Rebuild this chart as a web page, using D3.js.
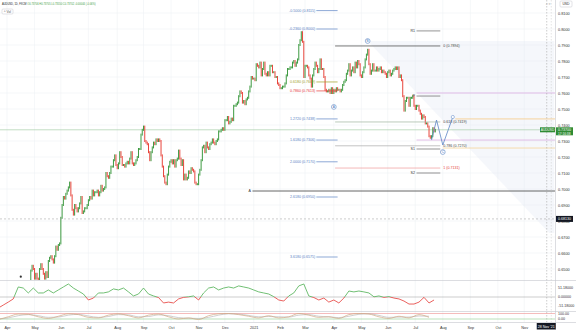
<!DOCTYPE html>
<html>
<head>
<meta charset="utf-8">
<script src="https://cdn.jsdelivr.net/npm/d3@7"></script>
<style>
html, body { margin: 0; padding: 0; background: #fff; }
svg { display: block; font-family: "Liberation Sans", Arial, sans-serif; }
</style>
</head>
<body>
<div id="chart"></div>
<script>
// ---- data (daily closes in pips, one row per week, from Mon 20 Apr 2020) ----
var firstBar = "2020-04-20";
var firstOpen = 6360;
var closes = [
  6370, 6330, 6390, 6350, 6360,  6420, 6490, 6520, 6500, 6440,
  6470, 6440, 6420, 6500, 6530,  6500, 6470, 6440, 6480, 6450,
  6550, 6570, 6580, 6560, 6540,  6580, 6640, 6620, 6650, 6660,
  6820, 6900, 6950, 6940, 6970,  6990, 7010, 7040, 6960, 6870,
  6840, 6900, 6880, 6860, 6880,  6910, 6950, 6850, 6860, 6880,
  6880, 6900, 6930, 6950, 6940,  6990, 6960, 6980, 6980, 6990,
  6960, 6980, 7020, 6990, 7000,  7010, 7100, 7080, 7070, 7100,
  7140, 7140, 7180, 7210, 7150,  7130, 7160, 7230, 7200, 7150,
  7150, 7140, 7160, 7170, 7160,  7190, 7230, 7160, 7150, 7160,
  7180, 7200, 7250, 7250, 7340,  7370, 7390, 7300, 7290, 7280,
  7230, 7180, 7230, 7260, 7290,  7280, 7310, 7300, 7310, 7300,
  7210, 7140, 7080, 7040, 7030,  7090, 7140, 7170, 7180, 7160,
  7180, 7140, 7180, 7190, 7240,  7190, 7150, 7180, 7060, 7090,
  7060, 7070, 7110, 7100, 7130,  7120, 7110, 7040, 7030, 7030,
  7090, 7120, 7180, 7260, 7270,  7230, 7290, 7260, 7250, 7280,
  7290, 7310, 7290, 7280, 7300,  7310, 7360, 7360, 7370, 7380,
  7370, 7430, 7430, 7450, 7410,  7420, 7440, 7430, 7520, 7520,
  7530, 7540, 7580, 7610, 7600,  7540, 7550, 7530, 7560, 7570,
  7610, 7640, 7700, 7690, 7690,  7680, 7780, 7770, 7760, 7790,
  7710, 7750, 7790, 7720, 7710,  7730, 7710, 7770, 7770, 7730,
  7730, 7700, 7700, 7660, 7650,  7630, 7630, 7640, 7640, 7660,
  7710, 7750, 7750, 7760, 7760,  7790, 7800, 7770, 7790, 7810,
  7900, 7930, 7980, 7920, 7700,  7770, 7770, 7760, 7710, 7690,
  7640, 7710, 7750, 7790, 7770,  7730, 7750, 7810, 7750, 7750,
  7700, 7620, 7610, 7610, 7620,  7600, 7630, 7600, 7620, 7610,
  7630, 7620, 7620, 7610, 7620,  7650, 7670, 7680, 7720, 7740,
  7780, 7710, 7740, 7760, 7730,  7790, 7760, 7800, 7780, 7710,
  7700, 7730, 7760, 7810, 7840,  7870, 7780, 7720, 7740, 7780,
  7740, 7740, 7760, 7740, 7750,  7760, 7730, 7740, 7730, 7720,
  7700, 7730, 7740, 7710, 7720,  7740, 7750, 7760, 7750, 7760,
  7700, 7710, 7680, 7580, 7490,  7550, 7570, 7570, 7520, 7570,
  7570, 7580, 7520, 7500, 7520,  7520, 7490, 7470, 7440, 7460,
  7450, 7410, 7410, 7390, 7330,  7320, 7330, 7380, 7360, 7370
];

// momentum pane, one value every 4 bars from Mon 23 Mar 2020
var oscStart = "2020-03-23";
var oscValues = [
  -63, -46, -29, -11, 57, 51, 23, 51, 23, 23, 40, 23, 40, 57, 74, 51, 34, 17,
  -17, -6, 23, 23, 29, 46, 40, 51, 29, 6, 17, 51, 17, 6, -3, -34, -29, -34,
  -11, -2, 1, 6, -17, 23, 51, 57, 40, 51, 57, 51, 63, 57, 51, 40, 29, 23, 17,
  2, -17, -23, 6, 23, 63, 74, 6, -3, -17, -6, -29, -17, -34, -6, 34, 29, 34,
  29, 23, 1, 6, -2, 2, -6, -11, -23, -40, -40, -29, -2, -34, -17
];
// lower pane, one value every 8 bars
var kValues = [-10, 40, 90, 85, 40, 10, 50, 95, 80, 30, 20, 70, 95, 60, 20, 70, 90, 40, 0, 20, -10, 60,
  95, 100, 80, 50, 20, 60, 20, 40, 100, 70, 30, 40, 10, 80, 100, 90, 40, 10, 50, 20, 80, 30];
var dValues = [0, 20, 60, 80, 60, 30, 35, 70, 85, 55, 30, 45, 80, 75, 40, 45, 75, 60, 25, 15, 10, 30,
  70, 95, 90, 65, 40, 45, 40, 35, 70, 80, 50, 40, 25, 50, 85, 95, 65, 30, 35, 35, 55, 50];

var priceTicks = [0.65, 0.66, 0.67, 0.68, 0.69, 0.70, 0.71, 0.72, 0.73, 0.74, 0.75, 0.76, 0.77, 0.78, 0.79, 0.80, 0.81];

// fib extension labels
var fibLevels = [
  { ratio: "-0.5000", price: 0.8115, color: "#5b84c4" },
  { ratio: "-0.2360", price: 0.8000, color: "#5b84c4" },
  { ratio: "0.6180", price: 0.7669, color: "#9e9d24" },
  { ratio: "0.7860", price: 0.7613, color: "#e53935" },
  { ratio: "1.2720", price: 0.7438, color: "#5b84c4" },
  { ratio: "1.6180", price: 0.7306, color: "#5b84c4" },
  { ratio: "2.0000", price: 0.7170, color: "#5b84c4" },
  { ratio: "2.6180", price: 0.6950, color: "#5b84c4" },
  { ratio: "3.6180", price: 0.6575, color: "#5b84c4" }
];
// trend based levels (from, to, price, label)
var trendLevels = [
  { from: "2021-04-02", to: "2021-07-29", price: 0.7894, color: "#555", label: "0 (0.7894)" },
  { from: "2021-04-02", to: "2021-07-29", price: 0.7419, color: "#9fb59f", label: "0.618 (0.7419)" },
  { from: "2021-04-02", to: "2021-07-29", price: 0.7270, color: "#aaa", label: "0.786 (0.7270)" },
  { from: "2021-04-02", to: "2021-07-29", price: 0.7131, color: "#ef9a9a", label: "1 (0.7131)" }
];
var pivotLevels = [
  { name: "R1", price: 0.7988 },
  { name: "P", price: 0.7581 },
  { name: "S1", price: 0.7250 },
  { name: "S2", price: 0.7100 }
];
var rayLevels = [
  { from: "2021-07-02", price: 0.7600, color: "#dcaee3" },
  { from: "2021-08-16", price: 0.7438, color: "#f6c985" },
  { from: "2021-07-02", price: 0.7306, color: "#dcaee3" },
  { from: "2021-08-02", price: 0.7256, color: "#f6d49a" },
  { from: "2020-12-31", price: 0.69875, color: "#555" }
];
var waves = [
  { label: "A", date: "2021-04-01", price: 0.7513 },
  { label: "B", date: "2021-05-10", price: 0.7925 },
  { label: "C", date: "2021-08-02", price: 0.7231 }
];
var projection = [["2021-07-20", 0.7306], ["2021-07-26", 0.7431], ["2021-08-02", 0.7275], ["2021-08-12", 0.7450]];
var wedge = [["2021-05-10", 0.7925], ["2021-12-03", 0.7925], ["2021-12-03", 0.6725], ["2021-11-29", 0.6725]];
var lastPrice = 0.7370;
var crossDate = "2021-11-25", crossPrice = 0.6813;

// ---- setup ----
var W = 576, H = 330, plotR = 555, mainB = 280;
var svg = d3.select("#chart").append("svg").attr("width", W).attr("height", H);

var parse = d3.timeParse("%Y-%m-%d"), fmt = d3.timeFormat("%Y-%m-%d");
var days = d3.timeDay.range(parse("2020-03-23"), parse("2022-01-01")).filter(function(d) { return d.getDay() % 6 !== 0; });
var dayIndex = new Map(days.map(function(d, i) { return [fmt(d), i]; }));
function bar(s) { return dayIndex.get(s); }

var x = d3.scaleLinear().domain([bar("2020-04-01"), bar("2021-02-01")]).range([7, 280]);
var y = d3.scaleLinear().domain([0.65, 0.81]).range([269, 13]);
var y1 = d3.scaleLinear().domain([-51.18, 51.18]).range([306, 288]);
var y2 = d3.scaleLinear().domain([0, 100]).range([319, 313.5]);

var defs = svg.append("defs");
defs.append("clipPath").attr("id", "mainClip").append("rect").attr("x", 0).attr("y", 0).attr("width", plotR).attr("height", mainB);
defs.append("clipPath").attr("id", "upClip").append("rect").attr("x", 0).attr("y", 281).attr("width", plotR).attr("height", y1(0) - 281);
defs.append("clipPath").attr("id", "dnClip").append("rect").attr("x", 0).attr("y", y1(0)).attr("width", plotR).attr("height", 311 - y1(0));

// month ticks
var months = d3.timeMonth.range(parse("2020-04-01"), parse("2021-12-01")).map(function(m) {
  var d = m;
  while (d.getDay() % 6 === 0) d = d3.timeDay.offset(d, 1);
  return { idx: bar(fmt(d)), label: m.getMonth() === 0 ? String(m.getFullYear()) : d3.timeFormat("%b")(m) };
});

// grid
var grid = svg.append("g");
grid.selectAll(".vg").data(months).enter().append("line")
  .attr("x1", function(d) { return x(d.idx); }).attr("x2", function(d) { return x(d.idx); })
  .attr("y1", 0).attr("y2", 322).attr("stroke", "#eff1f5").attr("stroke-width", 0.6);
grid.selectAll(".hg").data(priceTicks).enter().append("line")
  .attr("x1", 0).attr("x2", plotR).attr("y1", function(d) { return y(d); }).attr("y2", function(d) { return y(d); })
  .attr("stroke", "#eff1f5").attr("stroke-width", 0.6);

var main = svg.append("g").attr("clip-path", "url(#mainClip)");

// faint fan region
main.append("path").attr("d", "M" + wedge.map(function(p) { return [x(bar(p[0])), y(p[1])]; }).join("L") + "Z")
  .attr("fill", "#e3e9f3").attr("opacity", 0.35);

// price line and crosshair
main.append("line").attr("x1", 0).attr("x2", plotR).attr("y1", y(lastPrice)).attr("y2", y(lastPrice))
  .attr("stroke", "#a9cfaa").attr("stroke-width", 0.7);
svg.append("line").attr("x1", 0).attr("x2", plotR).attr("y1", y(crossPrice)).attr("y2", y(crossPrice))
  .attr("stroke", "#9a9a9a").attr("stroke-width", 0.5).attr("stroke-dasharray", "2,2");
svg.append("line").attr("x1", x(bar(crossDate))).attr("x2", x(bar(crossDate))).attr("y1", 0).attr("y2", 322)
  .attr("stroke", "#9a9a9a").attr("stroke-width", 0.5).attr("stroke-dasharray", "1.5,1.5");
svg.append("line").attr("x1", x(bar(crossDate)) + 4.5).attr("x2", x(bar(crossDate)) + 4.5).attr("y1", 0).attr("y2", 322)
  .attr("stroke", "#c9c9c9").attr("stroke-width", 0.5).attr("stroke-dasharray", "1.5,1.5");

// candles
var start = bar(firstBar);
var candles = closes.map(function(c, i) {
  var o = i === 0 ? firstOpen : closes[i - 1];
  return { idx: start + i, o: o / 10000, c: c / 10000 };
});
main.selectAll(".candle").data(candles).enter().append("rect")
  .attr("x", function(d) { return x(d.idx) - 0.5; })
  .attr("width", 1)
  .attr("y", function(d) { return y(Math.max(d.o, d.c)) - 1; })
  .attr("height", function(d) { return Math.max(1.2, Math.abs(y(d.o) - y(d.c)) + 2); })
  .attr("fill", function(d) { return d.c >= d.o ? "#3d9a41" : "#e8453c"; });

main.append("circle").attr("cx", x(bar("2020-04-16"))).attr("cy", y(0.6452)).attr("r", 1.1).attr("fill", "#333");

// fib labels
var fibG = main.append("g");
fibLevels.forEach(function(f) {
  var yy = y(f.price);
  fibG.append("line").attr("x1", x(bar("2021-03-12"))).attr("x2", x(bar("2021-04-06")))
    .attr("y1", yy).attr("y2", yy).attr("stroke", f.color).attr("stroke-width", 0.7);
  fibG.append("text").attr("x", x(bar("2021-03-12")) - 1).attr("y", yy + 1.2)
    .attr("text-anchor", "end").attr("font-size", 3.6).attr("fill", f.color)
    .text(f.ratio + " (" + f.price.toFixed(4) + ")");
});

// trend levels
trendLevels.forEach(function(t) {
  var yy = y(t.price);
  main.append("line").attr("x1", x(bar(t.from))).attr("x2", x(bar(t.to))).attr("y1", yy).attr("y2", yy)
    .attr("stroke", t.color).attr("stroke-width", t.color === "#555" ? 0.8 : 0.7);
  main.append("text").attr("x", x(bar(t.to)) + 3).attr("y", yy + 1.2).attr("font-size", 3.6)
    .attr("fill", t.color === "#ef9a9a" ? "#e53935" : "#444").text(t.label);
});

// rays to the right
rayLevels.forEach(function(r) {
  var yy = y(r.price);
  main.append("line").attr("x1", x(bar(r.from))).attr("x2", plotR).attr("y1", yy).attr("y2", yy)
    .attr("stroke", r.color).attr("stroke-width", r.color === "#555" ? 0.9 : 0.8);
});
main.append("text").attr("x", x(bar("2020-12-31")) - 1.5).attr("y", y(0.69875) + 1.2)
  .attr("text-anchor", "end").attr("font-size", 3.6).attr("fill", "#333").text("A");

// pivots
pivotLevels.forEach(function(p) {
  var yy = y(p.price);
  main.append("line").attr("x1", x(bar("2021-07-02"))).attr("x2", x(bar("2021-07-29"))).attr("y1", yy).attr("y2", yy)
    .attr("stroke", "#666").attr("stroke-width", 0.7);
  main.append("text").attr("x", x(bar("2021-07-02")) - 1.5).attr("y", yy + 1.2)
    .attr("text-anchor", "end").attr("font-size", 3.6).attr("fill", "#333").text(p.name);
});

// projection
main.append("path").attr("d", d3.line()(projection.map(function(p) { return [x(bar(p[0])), y(p[1])]; })))
  .attr("fill", "none").attr("stroke", "#5b84c4").attr("stroke-width", 0.8);
main.append("circle").attr("cx", x(bar(projection[3][0]))).attr("cy", y(projection[3][1])).attr("r", 1.6)
  .attr("fill", "#fff").attr("stroke", "#5b84c4").attr("stroke-width", 0.5);

// wave labels
var wg = main.selectAll(".wave").data(waves).enter().append("g")
  .attr("transform", function(d) { return "translate(" + x(bar(d.date)) + "," + y(d.price) + ")"; });
wg.append("circle").attr("r", 2.4).attr("fill", "#fff").attr("stroke", "#5b84c4").attr("stroke-width", 0.6);
wg.append("text").attr("y", 1.2).attr("text-anchor", "middle").attr("font-size", 3.2).attr("fill", "#3f6fb5")
  .text(function(d) { return d.label; });

// ---- pane separators ----
[280.5, 311.5, 322.5].forEach(function(v) {
  svg.append("line").attr("x1", 0).attr("x2", W).attr("y1", v).attr("y2", v).attr("stroke", "#c4c6cc").attr("stroke-width", 0.6);
});
svg.append("line").attr("x1", plotR + 0.5).attr("x2", plotR + 0.5).attr("y1", 0).attr("y2", H)
  .attr("stroke", "#c4c6cc").attr("stroke-width", 0.6);

// momentum pane
svg.append("line").attr("x1", 0).attr("x2", plotR).attr("y1", y1(0)).attr("y2", y1(0)).attr("stroke", "#9a9a9a").attr("stroke-width", 0.5);
var os = bar(oscStart);
var oscLine = d3.line().x(function(d, i) { return x(os + 4 * i); }).y(function(d) { return y1(d); });
svg.append("path").attr("d", oscLine(oscValues)).attr("clip-path", "url(#upClip)")
  .attr("fill", "none").attr("stroke", "#4caf50").attr("stroke-width", 0.8);
svg.append("path").attr("d", oscLine(oscValues)).attr("clip-path", "url(#dnClip)")
  .attr("fill", "none").attr("stroke", "#e53935").attr("stroke-width", 0.8);

// lower pane
svg.append("line").attr("x1", 0).attr("x2", plotR).attr("y1", y2(100)).attr("y2", y2(100)).attr("stroke", "#ef8f8f").attr("stroke-width", 0.6);
svg.append("line").attr("x1", 0).attr("x2", plotR).attr("y1", y2(0)).attr("y2", y2(0)).attr("stroke", "#8fcf8f").attr("stroke-width", 0.6);
var kLine = d3.line().x(function(d, i) { return x(os + 8 * i); }).y(function(d) { return y2(d); }).curve(d3.curveMonotoneX);
svg.append("path").attr("d", kLine(dValues)).attr("fill", "none").attr("stroke", "#b0b0b0").attr("stroke-width", 0.6);
svg.append("path").attr("d", kLine(kValues)).attr("fill", "none").attr("stroke", "#d0a882").attr("stroke-width", 0.7);

// ---- axes ----
var yAxis = svg.append("g").attr("transform", "translate(" + (plotR + 2) + ",0)")
  .call(d3.axisRight(y).tickValues(priceTicks).tickFormat(d3.format(".4f")).tickSize(0));
yAxis.select(".domain").remove();
yAxis.selectAll("text").attr("font-size", 3.8).attr("fill", "#333").attr("x", 1);

var paneAxis = [{ y: y1(51.18), t: "51.18000" }, { y: y1(0), t: "0.00000" }, { y: y1(-51.18), t: "-51.18000" },
  { y: y2(100), t: "100.00" }, { y: y2(0), t: "0.00" }];
svg.selectAll(".pl").data(paneAxis).enter().append("text")
  .attr("x", plotR + 3).attr("y", function(d) { return d.y + 1.3; }).attr("font-size", 3.6).attr("fill", "#333")
  .text(function(d) { return d.t; });

var xAxis = svg.append("g").attr("transform", "translate(0,324)")
  .call(d3.axisBottom(x).tickValues(months.filter(function(m) { return x(m.idx) < 535; }).map(function(m) { return m.idx; }))
    .tickFormat(function(v) { return months.find(function(m) { return m.idx === v; }).label; }).tickSize(0));
xAxis.select(".domain").remove();
xAxis.selectAll("text").attr("font-size", 3.8).attr("fill", "#333").attr("dy", "0.55em");

// crosshair labels
var cx = x(bar(crossDate));
svg.append("rect").attr("x", cx - 10).attr("y", 323).attr("width", 19).attr("height", 6.5).attr("fill", "#131722");
svg.append("text").attr("x", cx - 0.5).attr("y", 327.6).attr("text-anchor", "middle").attr("font-size", 3.6).attr("fill", "#fff").text("28 Nov '21");
svg.append("rect").attr("x", plotR + 1).attr("y", y(crossPrice) - 3).attr("width", 17).attr("height", 6).attr("fill", "#131722");
svg.append("text").attr("x", plotR + 3).attr("y", y(crossPrice) + 1.3).attr("font-size", 3.6).attr("fill", "#fff").text("0.68130");

// last price labels
svg.append("rect").attr("x", plotR - 15).attr("y", y(lastPrice) - 2.5).attr("width", 15).attr("height", 5).attr("fill", "#2e8b33");
svg.append("text").attr("x", plotR - 7.5).attr("y", y(lastPrice) + 1.2).attr("text-anchor", "middle").attr("font-size", 3.2).attr("fill", "#fff").text("AUDUSD");
svg.append("rect").attr("x", plotR + 1).attr("y", y(lastPrice) - 2.5).attr("width", 17).attr("height", 8).attr("fill", "#2e8b33");
svg.append("text").attr("x", plotR + 3).attr("y", y(lastPrice) + 1.2).attr("font-size", 3.6).attr("fill", "#fff").text(lastPrice.toFixed(5));
svg.append("text").attr("x", plotR + 3).attr("y", y(lastPrice) + 4.8).attr("font-size", 3.2).attr("fill", "#fff").text("17:16:38");

// ---- legend / header ----
var head = svg.append("text").attr("x", 2).attr("y", 5.2).attr("font-size", 2.6).attr("fill", "#131722");
head.append("tspan").text("AUDUSD, 1D, FXCM ");
head.append("tspan").attr("fill", "#43a047").text(" O0.73706 H0.73705 L0.73550 C0.73702 -0.00044 (-0.06%)");
svg.append("rect").attr("x", 2).attr("y", 9).attr("width", 11).attr("height", 5).attr("rx", 1)
  .attr("fill", "#fff").attr("stroke", "#c4c6cc").attr("stroke-width", 0.5);
svg.append("text").attr("x", 7.5).attr("y", 12.6).attr("text-anchor", "middle").attr("font-size", 3.2).attr("fill", "#555").text("^ Vol");
svg.append("rect").attr("x", 560).attr("y", 1).attr("width", 12).attr("height", 6).attr("rx", 1)
  .attr("fill", "#fff").attr("stroke", "#c4c6cc").attr("stroke-width", 0.5);
svg.append("text").attr("x", 566).attr("y", 5.3).attr("text-anchor", "middle").attr("font-size", 3.4).attr("fill", "#333").text("USD");
svg.append("text").attr("x", 548).attr("y", 5.3).attr("text-anchor", "middle").attr("font-size", 3.4).attr("fill", "#777").text("⌕ ○");
</script>
</body>
</html>
